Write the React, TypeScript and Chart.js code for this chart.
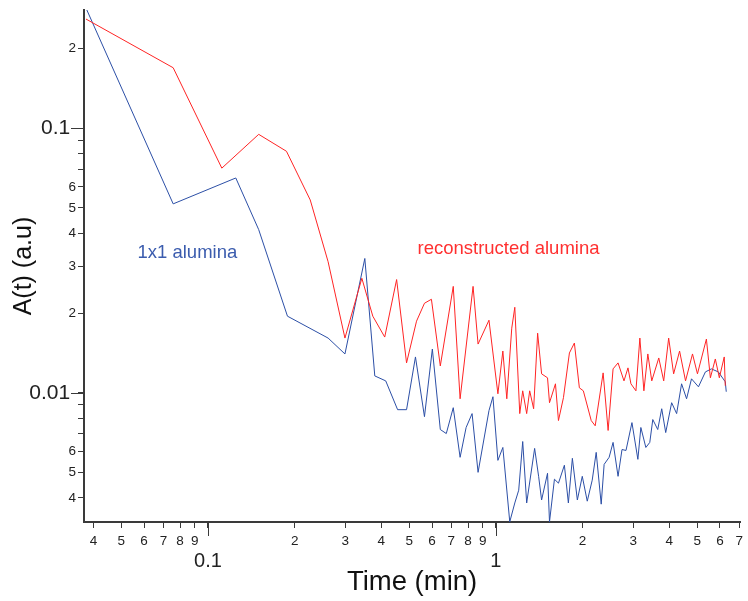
import React, { useEffect, useRef } from 'react';
import { Chart, registerables } from 'chart.js';

Chart.register(...registerables);

// ---- data (time in min, A(t) in a.u.) ----
const redTime = [0.0377, 0.0757, 0.1117, 0.150, 0.1873, 0.2265, 0.2613, 0.299, 0.3423, 0.3736, 0.411, 0.452, 0.4894, 0.530, 0.5647, 0.597, 0.641, 0.711, 0.751, 0.833, 0.867, 0.946, 1.016, 1.057, 1.091, 1.135, 1.163, 1.210, 1.239, 1.279, 1.310, 1.352, 1.396, 1.441, 1.511, 1.535, 1.610, 1.649, 1.716, 1.800, 1.873, 1.949, 2.012, 2.143, 2.212, 2.357, 2.453, 2.552, 2.656, 2.785, 2.875, 2.944, 3.064, 3.162, 3.265, 3.370, 3.478, 3.678, 3.826, 3.981, 4.142, 4.344, 4.556, 4.817, 5.012, 5.383, 5.557, 5.781, 5.970, 6.209, 6.26];
const redA = [0.259, 0.1695, 0.0707, 0.0949, 0.0819, 0.0536, 0.0313, 0.0161, 0.0271, 0.01948, 0.01624, 0.0268, 0.01297, 0.01865, 0.0218, 0.02257, 0.01263, 0.02525, 0.00949, 0.02525, 0.01528, 0.01881, 0.00991, 0.01438, 0.00949, 0.01755, 0.02105, 0.00834, 0.01017, 0.00834, 0.01017, 0.0087, 0.0168, 0.01179, 0.01139, 0.00917, 0.01081, 0.00785, 0.00958, 0.01414, 0.01542, 0.01044, 0.01017, 0.00785, 0.0075, 0.01189, 0.0072, 0.01231, 0.01297, 0.01109, 0.01242, 0.01081, 0.01017, 0.0161, 0.01017, 0.01402, 0.01109, 0.01354, 0.01109, 0.0161, 0.01179, 0.01438, 0.01109, 0.01402, 0.01179, 0.01596, 0.01139, 0.01342, 0.01139, 0.01366, 0.01063];

const blueTime = [0.0377, 0.0757, 0.1249, 0.150, 0.1888, 0.2613, 0.299, 0.3505, 0.3796, 0.4143, 0.4556, 0.4894, 0.5255, 0.5647, 0.6015, 0.641, 0.6724, 0.711, 0.751, 0.788, 0.8265, 0.867, 0.946, 0.9765, 1.016, 1.057, 1.117, 1.163, 1.2, 1.239, 1.279, 1.363, 1.407, 1.441, 1.511, 1.535, 1.597, 1.649, 1.729, 1.785, 1.843, 1.918, 1.995, 2.076, 2.160, 2.23, 2.321, 2.376, 2.473, 2.552, 2.656, 2.741, 2.83, 2.968, 3.112, 3.187, 3.317, 3.423, 3.506, 3.648, 3.766, 3.888, 4.077, 4.243, 4.414, 4.594, 4.779, 5.052, 5.34, 5.602, 5.922, 6.26, 6.31];
const blueA = [0.285, 0.0518, 0.0649, 0.0414, 0.01948, 0.0161, 0.01402, 0.0322, 0.01158, 0.01109, 0.00863, 0.00863, 0.01366, 0.00812, 0.01463, 0.00726, 0.00701, 0.00878, 0.0057, 0.00739, 0.00834, 0.005, 0.00856, 0.00966, 0.00555, 0.00621, 0.00325, 0.00383, 0.00428, 0.00654, 0.00383, 0.00616, 0.00483, 0.00393, 0.00496, 0.00325, 0.00471, 0.00455, 0.00532, 0.00383, 0.00565, 0.00393, 0.00483, 0.00389, 0.00467, 0.00595, 0.00379, 0.00536, 0.0057, 0.00649, 0.00483, 0.0061, 0.00605, 0.00771, 0.0056, 0.00739, 0.00621, 0.00649, 0.00792, 0.00726, 0.0087, 0.00707, 0.00917, 0.00834, 0.01081, 0.00949, 0.01129, 0.01053, 0.01199, 0.01231, 0.01199, 0.011, 0.01009];

// ---- axes ----
const xMin = 0.0371;
const xMax = 7.05;
const yMin = 0.003245;
const yMax = 0.28;
const xTickValues = [0.04, 0.05, 0.06, 0.07, 0.08, 0.09, 0.1, 0.2, 0.3, 0.4, 0.5, 0.6, 0.7, 0.8, 0.9, 1, 2, 3, 4, 5, 6, 7];
const xTickLabels = ['4', '5', '6', '7', '8', '9', '0.1', '2', '3', '4', '5', '6', '7', '8', '9', '1', '2', '3', '4', '5', '6', '7'];
const xMajorTicks = [0.1, 1];
const yTickValues = [0.004, 0.005, 0.006, 0.007, 0.008, 0.009, 0.01, 0.02, 0.03, 0.04, 0.05, 0.06, 0.07, 0.08, 0.09, 0.1, 0.2];
const yTickLabels = ['4', '5', '6', '', '', '', '0.01', '2', '3', '4', '5', '6', '', '', '', '0.1', '2'];
const yMajorTicks = [0.01, 0.1];

const xTitle = 'Time (min)';
const yTitle = 'A(t) (a.u)';
const blueLabel = '1x1 alumina';
const blueLabelAt = { x: 0.0569, y: 0.0339 };
const redLabel = 'reconstructed alumina';
const redLabelAt = { x: 0.534, y: 0.0351 };

const RED = '#ff2424';
const BLUE = '#2c4fa6';
const AXIS = '#3a3a3a';
const FONT = '"Liberation Sans", Arial, sans-serif';

const findIdx = (arr: number[], v: number) => arr.findIndex((a) => Math.abs(a - v) / a < 1e-6);
const isMajor = (arr: number[], v: number) => findIdx(arr, v) >= 0;

export default function App() {
  const ref = useRef<HTMLCanvasElement | null>(null);

  useEffect(() => {
    if (!ref.current) return;
    const extras = {
      id: 'extras',
      afterDraw(chart: any) {
        const { ctx } = chart;
        const xs = chart.scales.x;
        const ys = chart.scales.y;
        ctx.save();
        ctx.strokeStyle = AXIS;
        ctx.lineWidth = 1;
        ctx.beginPath();
        xMajorTicks.forEach((v) => {
          const px = Math.round(xs.getPixelForValue(v)) + 0.5;
          ctx.moveTo(px, xs.top);
          ctx.lineTo(px, xs.top + 14);
        });
        yMajorTicks.forEach((v) => {
          const py = Math.round(ys.getPixelForValue(v)) + 0.5;
          ctx.moveTo(ys.right - 13, py);
          ctx.lineTo(ys.right, py);
        });
        ctx.stroke();
        ctx.font = `18.5px ${FONT}`;
        ctx.textAlign = 'left';
        ctx.textBaseline = 'middle';
        ctx.fillStyle = '#3b5cae';
        ctx.fillText(blueLabel, xs.getPixelForValue(blueLabelAt.x), ys.getPixelForValue(blueLabelAt.y));
        ctx.fillStyle = '#ff3030';
        ctx.fillText(redLabel, xs.getPixelForValue(redLabelAt.x), ys.getPixelForValue(redLabelAt.y));
        ctx.restore();
      },
    };

    const chart = new Chart(ref.current, {
      type: 'line',
      data: {
        datasets: [
          {
            label: 'reconstructed alumina',
            data: redTime.map((t, i) => ({ x: t, y: redA[i] })),
            borderColor: RED,
            borderWidth: 1,
            pointRadius: 0,
            tension: 0,
            fill: false,
          },
          {
            label: '1x1 alumina',
            data: blueTime.map((t, i) => ({ x: t, y: blueA[i] })),
            borderColor: BLUE,
            borderWidth: 1,
            pointRadius: 0,
            tension: 0,
            fill: false,
          },
        ],
      },
      options: {
        responsive: false,
        animation: false,
        events: [],
        layout: { padding: { top: 7, right: 3, left: 0, bottom: 0 } },
        plugins: { legend: { display: false }, tooltip: { enabled: false } },
        scales: {
          x: {
            type: 'logarithmic',
            min: xMin,
            max: xMax,
            afterBuildTicks: (scale: any) => {
              scale.ticks = xTickValues.map((v) => ({ value: v }));
            },
            afterFit: (scale: any) => {
              scale.height = 79;
            },
            border: { display: true, color: AXIS, width: 2 },
            grid: { display: true, drawOnChartArea: false, drawTicks: true, tickLength: 6, tickColor: AXIS, tickWidth: 1 },
            ticks: {
              autoSkip: false,
              maxRotation: 0,
              minRotation: 0,
              padding: 5,
              color: '#222',
              font: (c: any) =>
                c.tick && isMajor(xMajorTicks, c.tick.value)
                  ? { family: FONT, size: 20, lineHeight: 0.95 }
                  : { family: FONT, size: 13.5, lineHeight: 1.2 },
              callback: (value: any) => {
                const i = findIdx(xTickValues, Number(value));
                if (i < 0) return '';
                return isMajor(xMajorTicks, Number(value)) ? ['', xTickLabels[i]] : xTickLabels[i];
              },
            },
            title: {
              display: true,
              text: xTitle,
              color: '#111',
              font: { family: FONT, size: 27.5 },
              padding: { top: 0, bottom: 2 },
            },
          },
          y: {
            type: 'logarithmic',
            min: yMin,
            max: yMax,
            afterBuildTicks: (scale: any) => {
              scale.ticks = yTickValues.map((v) => ({ value: v }));
            },
            afterFit: (scale: any) => {
              scale.width = 84;
            },
            border: { display: true, color: AXIS, width: 2 },
            grid: { display: true, drawOnChartArea: false, drawTicks: true, tickLength: 6, tickColor: AXIS, tickWidth: 1 },
            ticks: {
              autoSkip: false,
              padding: 2,
              color: '#222',
              font: (c: any) =>
                c.tick && isMajor(yMajorTicks, c.tick.value)
                  ? { family: FONT, size: 21 }
                  : { family: FONT, size: 13.5 },
              callback: (value: any) => {
                const i = findIdx(yTickValues, Number(value));
                if (i < 0) return '';
                return isMajor(yMajorTicks, Number(value)) ? yTickLabels[i] + ' ' : yTickLabels[i];
              },
            },
            title: {
              display: true,
              text: yTitle,
              color: '#111',
              font: { family: FONT, size: 25 },
              padding: { top: 9, bottom: 0 },
            },
          },
        },
      },
      plugins: [extras],
    } as any);
    return () => chart.destroy();
  }, []);

  return (
    <div style={{ position: 'fixed', left: 0, top: 0, width: 748, height: 601, background: '#fff' }}>
      <canvas ref={ref} width={748} height={601} style={{ width: 748, height: 601, display: 'block' }} />
    </div>
  );
}
